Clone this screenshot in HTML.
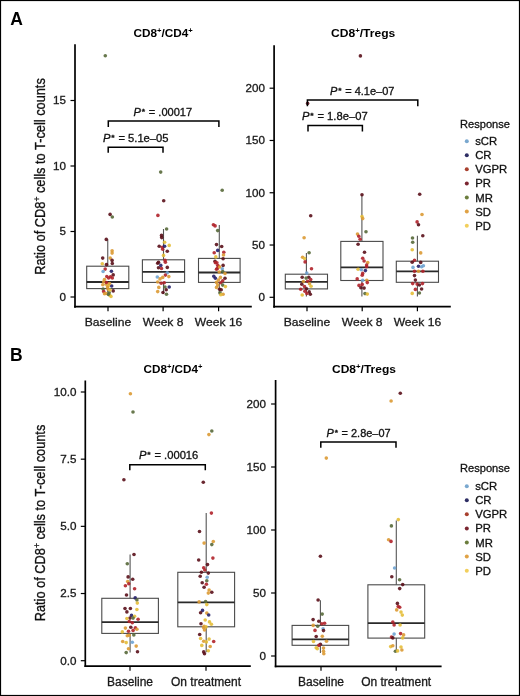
<!DOCTYPE html>
<html><head><meta charset="utf-8"><style>
html,body{margin:0;padding:0;background:#fff;}
svg{display:block;font-family:'Liberation Sans', sans-serif;}
text{-webkit-font-smoothing:antialiased;}
svg{will-change:transform;}
</style></head><body>
<svg width="520" height="696" viewBox="0 0 520 696">
<rect x="0" y="0" width="520" height="696" fill="#fff"/>
<text x="10.20" y="24.80" font-size="17.5" text-anchor="start" font-weight="bold" fill="#000" >A</text>
<text x="133.50" y="36.90" font-size="10.8" text-anchor="start" font-weight="bold" fill="#000" textLength="59.31" lengthAdjust="spacingAndGlyphs" >CD8<tspan baseline-shift="3.6" font-size="7">+</tspan>/CD4<tspan baseline-shift="3.6" font-size="7">+</tspan></text>
<text transform="translate(44.5,176.5) rotate(-90) scale(1,1.09)" font-size="12.8" text-anchor="middle" fill="#111" stroke="#111" stroke-width="0.3">Ratio of CD8<tspan baseline-shift="3.6" font-size="8.5">+</tspan> cells to T-cell counts</text>
<line x1="75.0" y1="44.3" x2="75.0" y2="307.65000000000003" stroke="#000" stroke-width="1.7"/>
<line x1="70.5" y1="297.0" x2="75.0" y2="297.0" stroke="#000" stroke-width="1.2"/>
<text transform="translate(66.00,300.90) scale(1.06,1)" font-size="11" text-anchor="end" font-weight="normal" fill="#1a1a1a"  stroke="#1a1a1a" stroke-width="0.3">0</text>
<line x1="70.5" y1="231.5" x2="75.0" y2="231.5" stroke="#000" stroke-width="1.2"/>
<text transform="translate(66.00,235.40) scale(1.06,1)" font-size="11" text-anchor="end" font-weight="normal" fill="#1a1a1a"  stroke="#1a1a1a" stroke-width="0.3">5</text>
<line x1="70.5" y1="166.0" x2="75.0" y2="166.0" stroke="#000" stroke-width="1.2"/>
<text transform="translate(66.00,169.90) scale(1.06,1)" font-size="11" text-anchor="end" font-weight="normal" fill="#1a1a1a"  stroke="#1a1a1a" stroke-width="0.3">10</text>
<line x1="70.5" y1="100.5" x2="75.0" y2="100.5" stroke="#000" stroke-width="1.2"/>
<text transform="translate(66.00,104.40) scale(1.06,1)" font-size="11" text-anchor="end" font-weight="normal" fill="#1a1a1a"  stroke="#1a1a1a" stroke-width="0.3">15</text>
<line x1="74.15" y1="306.65" x2="251.8" y2="306.65" stroke="#000" stroke-width="1.7"/>
<line x1="108.0" y1="306.65" x2="108.0" y2="311.15" stroke="#000" stroke-width="1.2"/>
<text transform="translate(108.00,326.00) scale(1.035,1)" font-size="11.7" text-anchor="middle" font-weight="normal" fill="#1a1a1a"  stroke="#1a1a1a" stroke-width="0.3">Baseline</text>
<line x1="163.1" y1="306.65" x2="163.1" y2="311.15" stroke="#000" stroke-width="1.2"/>
<text transform="translate(163.10,326.00) scale(1.035,1)" font-size="11.7" text-anchor="middle" font-weight="normal" fill="#1a1a1a"  stroke="#1a1a1a" stroke-width="0.3">Week 8</text>
<line x1="218.6" y1="306.65" x2="218.6" y2="311.15" stroke="#000" stroke-width="1.2"/>
<text transform="translate(218.60,326.00) scale(1.035,1)" font-size="11.7" text-anchor="middle" font-weight="normal" fill="#1a1a1a"  stroke="#1a1a1a" stroke-width="0.3">Week 16</text>
<text x="331.00" y="37.30" font-size="10.8" text-anchor="start" font-weight="bold" fill="#000" textLength="64.33" lengthAdjust="spacingAndGlyphs" >CD8<tspan baseline-shift="3.6" font-size="7">+</tspan>/Tregs</text>
<line x1="274.1" y1="45.2" x2="274.1" y2="307.65000000000003" stroke="#000" stroke-width="1.7"/>
<line x1="269.6" y1="297.3" x2="274.1" y2="297.3" stroke="#000" stroke-width="1.2"/>
<text transform="translate(265.00,301.20) scale(1.06,1)" font-size="11" text-anchor="end" font-weight="normal" fill="#1a1a1a"  stroke="#1a1a1a" stroke-width="0.3">0</text>
<line x1="269.6" y1="245.025" x2="274.1" y2="245.025" stroke="#000" stroke-width="1.2"/>
<text transform="translate(265.00,248.93) scale(1.06,1)" font-size="11" text-anchor="end" font-weight="normal" fill="#1a1a1a"  stroke="#1a1a1a" stroke-width="0.3">50</text>
<line x1="269.6" y1="192.75" x2="274.1" y2="192.75" stroke="#000" stroke-width="1.2"/>
<text transform="translate(265.00,196.65) scale(1.06,1)" font-size="11" text-anchor="end" font-weight="normal" fill="#1a1a1a"  stroke="#1a1a1a" stroke-width="0.3">100</text>
<line x1="269.6" y1="140.475" x2="274.1" y2="140.475" stroke="#000" stroke-width="1.2"/>
<text transform="translate(265.00,144.38) scale(1.06,1)" font-size="11" text-anchor="end" font-weight="normal" fill="#1a1a1a"  stroke="#1a1a1a" stroke-width="0.3">150</text>
<line x1="269.6" y1="88.19999999999999" x2="274.1" y2="88.19999999999999" stroke="#000" stroke-width="1.2"/>
<text transform="translate(265.00,92.10) scale(1.06,1)" font-size="11" text-anchor="end" font-weight="normal" fill="#1a1a1a"  stroke="#1a1a1a" stroke-width="0.3">200</text>
<line x1="273.25" y1="306.7" x2="450.8" y2="306.7" stroke="#000" stroke-width="1.7"/>
<line x1="307.0" y1="306.7" x2="307.0" y2="311.2" stroke="#000" stroke-width="1.2"/>
<text transform="translate(307.00,326.00) scale(1.035,1)" font-size="11.7" text-anchor="middle" font-weight="normal" fill="#1a1a1a"  stroke="#1a1a1a" stroke-width="0.3">Baseline</text>
<line x1="362.2" y1="306.7" x2="362.2" y2="311.2" stroke="#000" stroke-width="1.2"/>
<text transform="translate(362.20,326.00) scale(1.035,1)" font-size="11.7" text-anchor="middle" font-weight="normal" fill="#1a1a1a"  stroke="#1a1a1a" stroke-width="0.3">Week 8</text>
<line x1="417.4" y1="306.7" x2="417.4" y2="311.2" stroke="#000" stroke-width="1.2"/>
<text transform="translate(417.40,326.00) scale(1.035,1)" font-size="11.7" text-anchor="middle" font-weight="normal" fill="#1a1a1a"  stroke="#1a1a1a" stroke-width="0.3">Week 16</text>
<text transform="translate(460.00,128.10) scale(1.01,1)" font-size="11" text-anchor="start" font-weight="normal" fill="#111"  stroke="#111" stroke-width="0.3">Response</text>
<circle cx="466.8" cy="141.2" r="2.0" fill="#7aa8cf"/>
<text transform="translate(475.20,145.20) scale(1.03,1)" font-size="11" text-anchor="start" font-weight="normal" fill="#111"  stroke="#111" stroke-width="0.3">sCR</text>
<circle cx="466.8" cy="155.28" r="2.0" fill="#2d2d64"/>
<text transform="translate(475.20,159.28) scale(1.03,1)" font-size="11" text-anchor="start" font-weight="normal" fill="#111"  stroke="#111" stroke-width="0.3">CR</text>
<circle cx="466.8" cy="169.35999999999999" r="2.0" fill="#a8402e"/>
<text transform="translate(475.20,173.36) scale(1.03,1)" font-size="11" text-anchor="start" font-weight="normal" fill="#111"  stroke="#111" stroke-width="0.3">VGPR</text>
<circle cx="466.8" cy="183.44" r="2.0" fill="#7a2530"/>
<text transform="translate(475.20,187.44) scale(1.03,1)" font-size="11" text-anchor="start" font-weight="normal" fill="#111"  stroke="#111" stroke-width="0.3">PR</text>
<circle cx="466.8" cy="197.51999999999998" r="2.0" fill="#6b7d3d"/>
<text transform="translate(475.20,201.52) scale(1.03,1)" font-size="11" text-anchor="start" font-weight="normal" fill="#111"  stroke="#111" stroke-width="0.3">MR</text>
<circle cx="466.8" cy="211.6" r="2.0" fill="#e0a245"/>
<text transform="translate(475.20,215.60) scale(1.03,1)" font-size="11" text-anchor="start" font-weight="normal" fill="#111"  stroke="#111" stroke-width="0.3">SD</text>
<circle cx="466.8" cy="225.68" r="2.0" fill="#f2cf5c"/>
<text transform="translate(475.20,229.68) scale(1.03,1)" font-size="11" text-anchor="start" font-weight="normal" fill="#111"  stroke="#111" stroke-width="0.3">PD</text>
<text x="9.90" y="360.80" font-size="17.5" text-anchor="start" font-weight="bold" fill="#000" >B</text>
<text x="143.50" y="373.40" font-size="10.8" text-anchor="start" font-weight="bold" fill="#000" textLength="58.94" lengthAdjust="spacingAndGlyphs" >CD8<tspan baseline-shift="3.6" font-size="7">+</tspan>/CD4<tspan baseline-shift="3.6" font-size="7">+</tspan></text>
<text x="332.00" y="373.40" font-size="10.8" text-anchor="start" font-weight="bold" fill="#000" textLength="63.93" lengthAdjust="spacingAndGlyphs" >CD8<tspan baseline-shift="3.6" font-size="7">+</tspan>/Tregs</text>
<text transform="translate(44.5,523) rotate(-90) scale(1,1.09)" font-size="12.8" text-anchor="middle" fill="#111" stroke="#111" stroke-width="0.3">Ratio of CD8<tspan baseline-shift="3.6" font-size="8.5">+</tspan> cells to T-cell counts</text>
<line x1="85.3" y1="380.4" x2="85.3" y2="667.0500000000001" stroke="#000" stroke-width="1.7"/>
<line x1="80.8" y1="660.7" x2="85.3" y2="660.7" stroke="#000" stroke-width="1.2"/>
<text transform="translate(76.40,664.60) scale(1.06,1)" font-size="11" text-anchor="end" font-weight="normal" fill="#1a1a1a"  stroke="#1a1a1a" stroke-width="0.3">0.0</text>
<line x1="80.8" y1="593.5250000000001" x2="85.3" y2="593.5250000000001" stroke="#000" stroke-width="1.2"/>
<text transform="translate(76.40,597.43) scale(1.06,1)" font-size="11" text-anchor="end" font-weight="normal" fill="#1a1a1a"  stroke="#1a1a1a" stroke-width="0.3">2.5</text>
<line x1="80.8" y1="526.35" x2="85.3" y2="526.35" stroke="#000" stroke-width="1.2"/>
<text transform="translate(76.40,530.25) scale(1.06,1)" font-size="11" text-anchor="end" font-weight="normal" fill="#1a1a1a"  stroke="#1a1a1a" stroke-width="0.3">5.0</text>
<line x1="80.8" y1="459.17500000000007" x2="85.3" y2="459.17500000000007" stroke="#000" stroke-width="1.2"/>
<text transform="translate(76.40,463.08) scale(1.06,1)" font-size="11" text-anchor="end" font-weight="normal" fill="#1a1a1a"  stroke="#1a1a1a" stroke-width="0.3">7.5</text>
<line x1="80.8" y1="392.00000000000006" x2="85.3" y2="392.00000000000006" stroke="#000" stroke-width="1.2"/>
<text transform="translate(76.40,395.90) scale(1.06,1)" font-size="11" text-anchor="end" font-weight="normal" fill="#1a1a1a"  stroke="#1a1a1a" stroke-width="0.3">10.0</text>
<line x1="84.45" y1="666.2" x2="250.8" y2="666.2" stroke="#000" stroke-width="1.7"/>
<line x1="130.0" y1="666.2" x2="130.0" y2="670.7" stroke="#000" stroke-width="1.2"/>
<text x="130.00" y="685.60" font-size="12" text-anchor="middle" font-weight="normal" fill="#1a1a1a"  stroke="#1a1a1a" stroke-width="0.3">Baseline</text>
<line x1="206.0" y1="666.2" x2="206.0" y2="670.7" stroke="#000" stroke-width="1.2"/>
<text x="206.00" y="685.60" font-size="12" text-anchor="middle" font-weight="normal" fill="#1a1a1a"  stroke="#1a1a1a" stroke-width="0.3">On treatment</text>
<line x1="275.6" y1="380.1" x2="275.6" y2="667.15" stroke="#000" stroke-width="1.7"/>
<line x1="271.1" y1="656.0" x2="275.6" y2="656.0" stroke="#000" stroke-width="1.2"/>
<text transform="translate(266.00,659.90) scale(1.06,1)" font-size="11" text-anchor="end" font-weight="normal" fill="#1a1a1a"  stroke="#1a1a1a" stroke-width="0.3">0</text>
<line x1="271.1" y1="593.0" x2="275.6" y2="593.0" stroke="#000" stroke-width="1.2"/>
<text transform="translate(266.00,596.90) scale(1.06,1)" font-size="11" text-anchor="end" font-weight="normal" fill="#1a1a1a"  stroke="#1a1a1a" stroke-width="0.3">50</text>
<line x1="271.1" y1="530.0" x2="275.6" y2="530.0" stroke="#000" stroke-width="1.2"/>
<text transform="translate(266.00,533.90) scale(1.06,1)" font-size="11" text-anchor="end" font-weight="normal" fill="#1a1a1a"  stroke="#1a1a1a" stroke-width="0.3">100</text>
<line x1="271.1" y1="467.0" x2="275.6" y2="467.0" stroke="#000" stroke-width="1.2"/>
<text transform="translate(266.00,470.90) scale(1.06,1)" font-size="11" text-anchor="end" font-weight="normal" fill="#1a1a1a"  stroke="#1a1a1a" stroke-width="0.3">150</text>
<line x1="271.1" y1="404.0" x2="275.6" y2="404.0" stroke="#000" stroke-width="1.2"/>
<text transform="translate(266.00,407.90) scale(1.06,1)" font-size="11" text-anchor="end" font-weight="normal" fill="#1a1a1a"  stroke="#1a1a1a" stroke-width="0.3">200</text>
<line x1="274.75" y1="666.3" x2="441.6" y2="666.3" stroke="#000" stroke-width="1.7"/>
<line x1="321.0" y1="666.3" x2="321.0" y2="670.8" stroke="#000" stroke-width="1.2"/>
<text x="321.00" y="685.60" font-size="12" text-anchor="middle" font-weight="normal" fill="#1a1a1a"  stroke="#1a1a1a" stroke-width="0.3">Baseline</text>
<line x1="396.2" y1="666.3" x2="396.2" y2="670.8" stroke="#000" stroke-width="1.2"/>
<text x="396.20" y="685.60" font-size="12" text-anchor="middle" font-weight="normal" fill="#1a1a1a"  stroke="#1a1a1a" stroke-width="0.3">On treatment</text>
<text transform="translate(460.00,472.10) scale(1.01,1)" font-size="11" text-anchor="start" font-weight="normal" fill="#111"  stroke="#111" stroke-width="0.3">Response</text>
<circle cx="466.8" cy="486.2" r="2.0" fill="#7aa8cf"/>
<text transform="translate(475.20,490.20) scale(1.03,1)" font-size="11" text-anchor="start" font-weight="normal" fill="#111"  stroke="#111" stroke-width="0.3">sCR</text>
<circle cx="466.8" cy="500.28" r="2.0" fill="#2d2d64"/>
<text transform="translate(475.20,504.28) scale(1.03,1)" font-size="11" text-anchor="start" font-weight="normal" fill="#111"  stroke="#111" stroke-width="0.3">CR</text>
<circle cx="466.8" cy="514.36" r="2.0" fill="#a8402e"/>
<text transform="translate(475.20,518.36) scale(1.03,1)" font-size="11" text-anchor="start" font-weight="normal" fill="#111"  stroke="#111" stroke-width="0.3">VGPR</text>
<circle cx="466.8" cy="528.4399999999999" r="2.0" fill="#7a2530"/>
<text transform="translate(475.20,532.44) scale(1.03,1)" font-size="11" text-anchor="start" font-weight="normal" fill="#111"  stroke="#111" stroke-width="0.3">PR</text>
<circle cx="466.8" cy="542.52" r="2.0" fill="#6b7d3d"/>
<text transform="translate(475.20,546.52) scale(1.03,1)" font-size="11" text-anchor="start" font-weight="normal" fill="#111"  stroke="#111" stroke-width="0.3">MR</text>
<circle cx="466.8" cy="556.6" r="2.0" fill="#e0a245"/>
<text transform="translate(475.20,560.60) scale(1.03,1)" font-size="11" text-anchor="start" font-weight="normal" fill="#111"  stroke="#111" stroke-width="0.3">SD</text>
<circle cx="466.8" cy="570.68" r="2.0" fill="#f2cf5c"/>
<text transform="translate(475.20,574.68) scale(1.03,1)" font-size="11" text-anchor="start" font-weight="normal" fill="#111"  stroke="#111" stroke-width="0.3">PD</text>
<line x1="107.75" y1="239.5" x2="107.75" y2="266.2" stroke="#555" stroke-width="1.1"/>
<line x1="107.75" y1="288.6" x2="107.75" y2="295.0" stroke="#555" stroke-width="1.1"/>
<rect x="86.7" y="266.2" width="42.1" height="22.400000000000034" fill="none" stroke="#4a4a4a" stroke-width="1.1"/>
<line x1="86.7" y1="282.0" x2="128.8" y2="282.0" stroke="#2a2a2a" stroke-width="1.8"/>
<line x1="163.5" y1="229.0" x2="163.5" y2="259.8" stroke="#555" stroke-width="1.1"/>
<line x1="163.5" y1="282.4" x2="163.5" y2="294.0" stroke="#555" stroke-width="1.1"/>
<rect x="142.4" y="259.8" width="42.2" height="22.599999999999966" fill="none" stroke="#4a4a4a" stroke-width="1.1"/>
<line x1="142.4" y1="271.9" x2="184.6" y2="271.9" stroke="#2a2a2a" stroke-width="1.8"/>
<line x1="219.3" y1="225.0" x2="219.3" y2="258.4" stroke="#555" stroke-width="1.1"/>
<line x1="219.3" y1="282.4" x2="219.3" y2="294.5" stroke="#555" stroke-width="1.1"/>
<rect x="198.5" y="258.4" width="41.6" height="24.0" fill="none" stroke="#4a4a4a" stroke-width="1.1"/>
<line x1="198.5" y1="272.5" x2="240.10000000000002" y2="272.5" stroke="#2a2a2a" stroke-width="1.8"/>
<line x1="306.4" y1="253.0" x2="306.4" y2="274.2" stroke="#555" stroke-width="1.1"/>
<line x1="306.4" y1="288.9" x2="306.4" y2="296.5" stroke="#555" stroke-width="1.1"/>
<rect x="285.29999999999995" y="274.2" width="42.2" height="14.699999999999989" fill="none" stroke="#4a4a4a" stroke-width="1.1"/>
<line x1="285.29999999999995" y1="281.9" x2="327.5" y2="281.9" stroke="#2a2a2a" stroke-width="1.8"/>
<line x1="361.9" y1="194.8" x2="361.9" y2="241.4" stroke="#555" stroke-width="1.1"/>
<line x1="361.9" y1="280.5" x2="361.9" y2="296.5" stroke="#555" stroke-width="1.1"/>
<rect x="340.79999999999995" y="241.4" width="42.2" height="39.099999999999994" fill="none" stroke="#4a4a4a" stroke-width="1.1"/>
<line x1="340.79999999999995" y1="267.3" x2="383.0" y2="267.3" stroke="#2a2a2a" stroke-width="1.8"/>
<line x1="417.4" y1="235.8" x2="417.4" y2="261.2" stroke="#555" stroke-width="1.1"/>
<line x1="417.4" y1="282.3" x2="417.4" y2="296.5" stroke="#555" stroke-width="1.1"/>
<rect x="396.29999999999995" y="261.2" width="42.2" height="21.100000000000023" fill="none" stroke="#4a4a4a" stroke-width="1.1"/>
<line x1="396.29999999999995" y1="271.4" x2="438.5" y2="271.4" stroke="#2a2a2a" stroke-width="1.8"/>
<line x1="130.1" y1="554.6" x2="130.1" y2="598.3" stroke="#555" stroke-width="1.1"/>
<line x1="130.1" y1="633.4" x2="130.1" y2="652.5" stroke="#555" stroke-width="1.1"/>
<rect x="101.8" y="598.3" width="56.6" height="35.10000000000002" fill="none" stroke="#4a4a4a" stroke-width="1.1"/>
<line x1="101.8" y1="622.1" x2="158.4" y2="622.1" stroke="#2a2a2a" stroke-width="1.8"/>
<line x1="206.2" y1="513.1" x2="206.2" y2="572.3" stroke="#555" stroke-width="1.1"/>
<line x1="206.2" y1="626.8" x2="206.2" y2="652.3" stroke="#555" stroke-width="1.1"/>
<rect x="177.79999999999998" y="572.3" width="56.8" height="54.5" fill="none" stroke="#4a4a4a" stroke-width="1.1"/>
<line x1="177.79999999999998" y1="602.4" x2="234.6" y2="602.4" stroke="#2a2a2a" stroke-width="1.8"/>
<line x1="320.4" y1="600.2" x2="320.4" y2="625.4" stroke="#555" stroke-width="1.1"/>
<line x1="320.4" y1="645.3" x2="320.4" y2="653.0" stroke="#555" stroke-width="1.1"/>
<rect x="292.09999999999997" y="625.4" width="56.6" height="19.899999999999977" fill="none" stroke="#4a4a4a" stroke-width="1.1"/>
<line x1="292.09999999999997" y1="639.3" x2="348.7" y2="639.3" stroke="#2a2a2a" stroke-width="1.8"/>
<line x1="396.3" y1="520.4" x2="396.3" y2="584.8" stroke="#555" stroke-width="1.1"/>
<line x1="396.3" y1="638.1" x2="396.3" y2="651.0" stroke="#555" stroke-width="1.1"/>
<rect x="367.90000000000003" y="584.8" width="56.8" height="53.30000000000007" fill="none" stroke="#4a4a4a" stroke-width="1.1"/>
<line x1="367.90000000000003" y1="623.1" x2="424.7" y2="623.1" stroke="#2a2a2a" stroke-width="1.8"/>
<circle cx="105.3" cy="55.8" r="1.8" fill="#58693a" fill-opacity="0.9"/>
<circle cx="110.1" cy="214.4" r="1.8" fill="#5a0f1a" fill-opacity="0.9"/>
<circle cx="112.3" cy="217.0" r="1.8" fill="#58693a" fill-opacity="0.9"/>
<circle cx="106.3" cy="239.4" r="1.8" fill="#5a0f1a" fill-opacity="0.9"/>
<circle cx="112.1" cy="250.8" r="1.8" fill="#dc9a34" fill-opacity="0.9"/>
<circle cx="112.1" cy="253.1" r="1.8" fill="#dc9a34" fill-opacity="0.9"/>
<circle cx="102.7" cy="258.1" r="1.8" fill="#5a0f1a" fill-opacity="0.9"/>
<circle cx="110.2" cy="258.1" r="1.8" fill="#dc9a34" fill-opacity="0.9"/>
<circle cx="112.1" cy="260.4" r="1.8" fill="#5a0f1a" fill-opacity="0.9"/>
<circle cx="112.3" cy="263.5" r="1.8" fill="#5a0f1a" fill-opacity="0.9"/>
<circle cx="102.3" cy="263.8" r="1.8" fill="#e4be38" fill-opacity="0.9"/>
<circle cx="106.5" cy="264.6" r="1.8" fill="#5a0f1a" fill-opacity="0.9"/>
<circle cx="105.2" cy="269.1" r="1.8" fill="#b0222a" fill-opacity="0.9"/>
<circle cx="103.1" cy="271.5" r="1.8" fill="#6fa3d2" fill-opacity="0.9"/>
<circle cx="111.4" cy="271.2" r="1.8" fill="#25206a" fill-opacity="0.9"/>
<circle cx="106.8" cy="276.5" r="1.8" fill="#b0222a" fill-opacity="0.9"/>
<circle cx="110.5" cy="276.8" r="1.8" fill="#b0222a" fill-opacity="0.9"/>
<circle cx="113.2" cy="274.9" r="1.8" fill="#5a0f1a" fill-opacity="0.9"/>
<circle cx="112.3" cy="278.0" r="1.8" fill="#b0222a" fill-opacity="0.9"/>
<circle cx="108.6" cy="278.0" r="1.8" fill="#b0222a" fill-opacity="0.9"/>
<circle cx="103.7" cy="281.7" r="1.8" fill="#dc9a34" fill-opacity="0.9"/>
<circle cx="102.8" cy="284.8" r="1.8" fill="#dc9a34" fill-opacity="0.9"/>
<circle cx="106.2" cy="284.2" r="1.8" fill="#dc9a34" fill-opacity="0.9"/>
<circle cx="108.3" cy="285.7" r="1.8" fill="#e4be38" fill-opacity="0.9"/>
<circle cx="111.7" cy="286.0" r="1.8" fill="#25206a" fill-opacity="0.9"/>
<circle cx="103.1" cy="289.1" r="1.8" fill="#58693a" fill-opacity="0.9"/>
<circle cx="103.7" cy="291.5" r="1.8" fill="#b0222a" fill-opacity="0.9"/>
<circle cx="108.0" cy="289.1" r="1.8" fill="#dc9a34" fill-opacity="0.9"/>
<circle cx="109.2" cy="292.8" r="1.8" fill="#58693a" fill-opacity="0.9"/>
<circle cx="109.8" cy="295.2" r="1.8" fill="#e4be38" fill-opacity="0.9"/>
<circle cx="113.2" cy="290.9" r="1.8" fill="#5a0f1a" fill-opacity="0.9"/>
<circle cx="106.0" cy="293.5" r="1.8" fill="#dc9a34" fill-opacity="0.9"/>
<circle cx="106.5" cy="282.5" r="1.8" fill="#b0222a" fill-opacity="0.9"/>
<circle cx="104.5" cy="279.5" r="1.8" fill="#dc9a34" fill-opacity="0.9"/>
<circle cx="109.5" cy="283.5" r="1.8" fill="#dc9a34" fill-opacity="0.9"/>
<circle cx="107.5" cy="287.0" r="1.8" fill="#dc9a34" fill-opacity="0.9"/>
<circle cx="110.0" cy="290.0" r="1.8" fill="#e4be38" fill-opacity="0.9"/>
<circle cx="108.5" cy="294.5" r="1.8" fill="#58693a" fill-opacity="0.9"/>
<circle cx="111.0" cy="296.5" r="1.8" fill="#e4be38" fill-opacity="0.9"/>
<circle cx="104.5" cy="293.8" r="1.8" fill="#dc9a34" fill-opacity="0.9"/>
<circle cx="160.7" cy="172.1" r="1.8" fill="#58693a" fill-opacity="0.9"/>
<circle cx="163.7" cy="200.8" r="1.8" fill="#5a0f1a" fill-opacity="0.9"/>
<circle cx="157.9" cy="215.4" r="1.8" fill="#b0222a" fill-opacity="0.9"/>
<circle cx="166.6" cy="229.0" r="1.8" fill="#58693a" fill-opacity="0.9"/>
<circle cx="161.5" cy="235.4" r="1.8" fill="#5a0f1a" fill-opacity="0.9"/>
<circle cx="161.7" cy="237.6" r="1.8" fill="#5a0f1a" fill-opacity="0.9"/>
<circle cx="164.6" cy="242.3" r="1.8" fill="#e4be38" fill-opacity="0.9"/>
<circle cx="169.2" cy="245.4" r="1.8" fill="#e4be38" fill-opacity="0.9"/>
<circle cx="159.2" cy="246.2" r="1.8" fill="#5a0f1a" fill-opacity="0.9"/>
<circle cx="162.3" cy="247.3" r="1.8" fill="#b0222a" fill-opacity="0.9"/>
<circle cx="164.6" cy="246.2" r="1.8" fill="#25206a" fill-opacity="0.9"/>
<circle cx="162.7" cy="249.2" r="1.8" fill="#b0222a" fill-opacity="0.9"/>
<circle cx="167.3" cy="251.2" r="1.8" fill="#5a0f1a" fill-opacity="0.9"/>
<circle cx="163.5" cy="255.4" r="1.8" fill="#e4be38" fill-opacity="0.9"/>
<circle cx="165.0" cy="260.4" r="1.8" fill="#b0222a" fill-opacity="0.9"/>
<circle cx="165.4" cy="262.3" r="1.8" fill="#b0222a" fill-opacity="0.9"/>
<circle cx="158.5" cy="262.3" r="1.8" fill="#5a0f1a" fill-opacity="0.9"/>
<circle cx="157.7" cy="263.2" r="1.8" fill="#5a0f1a" fill-opacity="0.9"/>
<circle cx="160.8" cy="265.4" r="1.8" fill="#25206a" fill-opacity="0.9"/>
<circle cx="167.3" cy="267.4" r="1.8" fill="#5a0f1a" fill-opacity="0.9"/>
<circle cx="158.5" cy="267.8" r="1.8" fill="#5a0f1a" fill-opacity="0.9"/>
<circle cx="161.5" cy="268.5" r="1.8" fill="#b0222a" fill-opacity="0.9"/>
<circle cx="167.3" cy="272.8" r="1.8" fill="#6fa3d2" fill-opacity="0.9"/>
<circle cx="165.4" cy="275.1" r="1.8" fill="#b0222a" fill-opacity="0.9"/>
<circle cx="168.8" cy="276.6" r="1.8" fill="#dc9a34" fill-opacity="0.9"/>
<circle cx="157.3" cy="277.0" r="1.8" fill="#6fa3d2" fill-opacity="0.9"/>
<circle cx="160.0" cy="278.9" r="1.8" fill="#dc9a34" fill-opacity="0.9"/>
<circle cx="162.7" cy="277.4" r="1.8" fill="#dc9a34" fill-opacity="0.9"/>
<circle cx="157.7" cy="282.0" r="1.8" fill="#dc9a34" fill-opacity="0.9"/>
<circle cx="161.2" cy="283.2" r="1.8" fill="#b0222a" fill-opacity="0.9"/>
<circle cx="164.2" cy="282.8" r="1.8" fill="#b0222a" fill-opacity="0.9"/>
<circle cx="169.2" cy="287.0" r="1.8" fill="#25206a" fill-opacity="0.9"/>
<circle cx="158.8" cy="287.4" r="1.8" fill="#dc9a34" fill-opacity="0.9"/>
<circle cx="165.0" cy="287.0" r="1.8" fill="#58693a" fill-opacity="0.9"/>
<circle cx="157.7" cy="291.6" r="1.8" fill="#dc9a34" fill-opacity="0.9"/>
<circle cx="166.2" cy="289.7" r="1.8" fill="#5a0f1a" fill-opacity="0.9"/>
<circle cx="166.5" cy="294.3" r="1.8" fill="#58693a" fill-opacity="0.9"/>
<circle cx="163.0" cy="292.5" r="1.8" fill="#5a0f1a" fill-opacity="0.9"/>
<circle cx="222.2" cy="190.3" r="1.8" fill="#58693a" fill-opacity="0.9"/>
<circle cx="213.4" cy="224.8" r="1.8" fill="#b0222a" fill-opacity="0.9"/>
<circle cx="215.1" cy="225.9" r="1.8" fill="#b0222a" fill-opacity="0.9"/>
<circle cx="217.7" cy="230.6" r="1.8" fill="#58693a" fill-opacity="0.9"/>
<circle cx="216.5" cy="244.6" r="1.8" fill="#5a0f1a" fill-opacity="0.9"/>
<circle cx="221.7" cy="246.5" r="1.8" fill="#5a0f1a" fill-opacity="0.9"/>
<circle cx="217.7" cy="250.4" r="1.8" fill="#25206a" fill-opacity="0.9"/>
<circle cx="214.2" cy="252.7" r="1.8" fill="#b0222a" fill-opacity="0.9"/>
<circle cx="223.8" cy="252.3" r="1.8" fill="#b0222a" fill-opacity="0.9"/>
<circle cx="223.5" cy="255.0" r="1.8" fill="#dc9a34" fill-opacity="0.9"/>
<circle cx="215.8" cy="256.9" r="1.8" fill="#e4be38" fill-opacity="0.9"/>
<circle cx="223.1" cy="258.8" r="1.8" fill="#5a0f1a" fill-opacity="0.9"/>
<circle cx="215.0" cy="261.2" r="1.8" fill="#5a0f1a" fill-opacity="0.9"/>
<circle cx="216.9" cy="262.7" r="1.8" fill="#b0222a" fill-opacity="0.9"/>
<circle cx="215.4" cy="262.8" r="1.8" fill="#b0222a" fill-opacity="0.9"/>
<circle cx="223.1" cy="265.4" r="1.8" fill="#5a0f1a" fill-opacity="0.9"/>
<circle cx="218.8" cy="266.2" r="1.8" fill="#dc9a34" fill-opacity="0.9"/>
<circle cx="217.7" cy="265.5" r="1.8" fill="#b0222a" fill-opacity="0.9"/>
<circle cx="217.3" cy="268.5" r="1.8" fill="#b0222a" fill-opacity="0.9"/>
<circle cx="222.3" cy="268.8" r="1.8" fill="#6fa3d2" fill-opacity="0.9"/>
<circle cx="219.6" cy="267.0" r="1.8" fill="#dc9a34" fill-opacity="0.9"/>
<circle cx="216.5" cy="269.3" r="1.8" fill="#b0222a" fill-opacity="0.9"/>
<circle cx="222.7" cy="271.6" r="1.8" fill="#58693a" fill-opacity="0.9"/>
<circle cx="219.2" cy="272.0" r="1.8" fill="#dc9a34" fill-opacity="0.9"/>
<circle cx="225.0" cy="273.5" r="1.8" fill="#dc9a34" fill-opacity="0.9"/>
<circle cx="213.8" cy="276.2" r="1.8" fill="#25206a" fill-opacity="0.9"/>
<circle cx="215.4" cy="278.2" r="1.8" fill="#25206a" fill-opacity="0.9"/>
<circle cx="220.4" cy="277.4" r="1.8" fill="#dc9a34" fill-opacity="0.9"/>
<circle cx="218.5" cy="280.1" r="1.8" fill="#dc9a34" fill-opacity="0.9"/>
<circle cx="225.0" cy="278.2" r="1.8" fill="#5a0f1a" fill-opacity="0.9"/>
<circle cx="222.7" cy="280.8" r="1.8" fill="#b0222a" fill-opacity="0.9"/>
<circle cx="216.5" cy="282.4" r="1.8" fill="#dc9a34" fill-opacity="0.9"/>
<circle cx="220.8" cy="282.8" r="1.8" fill="#b0222a" fill-opacity="0.9"/>
<circle cx="217.7" cy="285.1" r="1.8" fill="#dc9a34" fill-opacity="0.9"/>
<circle cx="222.7" cy="285.1" r="1.8" fill="#58693a" fill-opacity="0.9"/>
<circle cx="216.5" cy="287.4" r="1.8" fill="#dc9a34" fill-opacity="0.9"/>
<circle cx="225.4" cy="286.6" r="1.8" fill="#e4be38" fill-opacity="0.9"/>
<circle cx="219.6" cy="289.3" r="1.8" fill="#5a0f1a" fill-opacity="0.9"/>
<circle cx="221.2" cy="289.7" r="1.8" fill="#5a0f1a" fill-opacity="0.9"/>
<circle cx="220.0" cy="292.8" r="1.8" fill="#58693a" fill-opacity="0.9"/>
<circle cx="223.1" cy="294.3" r="1.8" fill="#dc9a34" fill-opacity="0.9"/>
<circle cx="220.8" cy="294.7" r="1.8" fill="#e4be38" fill-opacity="0.9"/>
<circle cx="307.6" cy="103.4" r="1.8" fill="#5a0f1a" fill-opacity="0.9"/>
<circle cx="310.7" cy="215.8" r="1.8" fill="#5a0f1a" fill-opacity="0.9"/>
<circle cx="304.1" cy="237.8" r="1.8" fill="#dc9a34" fill-opacity="0.9"/>
<circle cx="309.1" cy="252.7" r="1.8" fill="#58693a" fill-opacity="0.9"/>
<circle cx="302.6" cy="257.3" r="1.8" fill="#dc9a34" fill-opacity="0.9"/>
<circle cx="304.5" cy="258.5" r="1.8" fill="#e4be38" fill-opacity="0.9"/>
<circle cx="305.1" cy="261.9" r="1.8" fill="#b0222a" fill-opacity="0.9"/>
<circle cx="311.5" cy="268.8" r="1.8" fill="#b0222a" fill-opacity="0.9"/>
<circle cx="306.8" cy="273.1" r="1.8" fill="#6fa3d2" fill-opacity="0.9"/>
<circle cx="302.2" cy="277.3" r="1.8" fill="#5a0f1a" fill-opacity="0.9"/>
<circle cx="308.8" cy="277.3" r="1.8" fill="#5a0f1a" fill-opacity="0.9"/>
<circle cx="306.1" cy="278.1" r="1.8" fill="#58693a" fill-opacity="0.9"/>
<circle cx="310.7" cy="279.6" r="1.8" fill="#b0222a" fill-opacity="0.9"/>
<circle cx="303.4" cy="281.5" r="1.8" fill="#dc9a34" fill-opacity="0.9"/>
<circle cx="307.6" cy="281.2" r="1.8" fill="#b0222a" fill-opacity="0.9"/>
<circle cx="301.8" cy="284.2" r="1.8" fill="#5a0f1a" fill-opacity="0.9"/>
<circle cx="309.5" cy="283.8" r="1.8" fill="#dc9a34" fill-opacity="0.9"/>
<circle cx="311.1" cy="286.2" r="1.8" fill="#e4be38" fill-opacity="0.9"/>
<circle cx="304.5" cy="286.5" r="1.8" fill="#b0222a" fill-opacity="0.9"/>
<circle cx="300.7" cy="289.2" r="1.8" fill="#b0222a" fill-opacity="0.9"/>
<circle cx="306.5" cy="288.8" r="1.8" fill="#5a0f1a" fill-opacity="0.9"/>
<circle cx="304.9" cy="291.2" r="1.8" fill="#b0222a" fill-opacity="0.9"/>
<circle cx="309.2" cy="291.9" r="1.8" fill="#5a0f1a" fill-opacity="0.9"/>
<circle cx="310.3" cy="294.2" r="1.8" fill="#5a0f1a" fill-opacity="0.9"/>
<circle cx="302.2" cy="295.0" r="1.8" fill="#e4be38" fill-opacity="0.9"/>
<circle cx="306.8" cy="293.5" r="1.8" fill="#b0222a" fill-opacity="0.9"/>
<circle cx="360.4" cy="55.9" r="1.8" fill="#5a0f1a" fill-opacity="0.9"/>
<circle cx="362.0" cy="194.7" r="1.8" fill="#5a0f1a" fill-opacity="0.9"/>
<circle cx="362.0" cy="216.5" r="1.8" fill="#e4be38" fill-opacity="0.9"/>
<circle cx="362.7" cy="218.6" r="1.8" fill="#dc9a34" fill-opacity="0.9"/>
<circle cx="366.0" cy="231.8" r="1.8" fill="#58693a" fill-opacity="0.9"/>
<circle cx="357.5" cy="234.1" r="1.8" fill="#dc9a34" fill-opacity="0.9"/>
<circle cx="358.8" cy="236.3" r="1.8" fill="#b0222a" fill-opacity="0.9"/>
<circle cx="360.1" cy="239.3" r="1.8" fill="#b0222a" fill-opacity="0.9"/>
<circle cx="358.1" cy="244.3" r="1.8" fill="#5a0f1a" fill-opacity="0.9"/>
<circle cx="364.5" cy="252.3" r="1.8" fill="#5a0f1a" fill-opacity="0.9"/>
<circle cx="362.7" cy="258.2" r="1.8" fill="#b0222a" fill-opacity="0.9"/>
<circle cx="364.1" cy="261.0" r="1.8" fill="#b0222a" fill-opacity="0.9"/>
<circle cx="367.7" cy="262.6" r="1.8" fill="#dc9a34" fill-opacity="0.9"/>
<circle cx="366.6" cy="265.1" r="1.8" fill="#b0222a" fill-opacity="0.9"/>
<circle cx="366.6" cy="266.8" r="1.8" fill="#b0222a" fill-opacity="0.9"/>
<circle cx="358.1" cy="269.3" r="1.8" fill="#e4be38" fill-opacity="0.9"/>
<circle cx="361.3" cy="269.7" r="1.8" fill="#6fa3d2" fill-opacity="0.9"/>
<circle cx="365.4" cy="270.6" r="1.8" fill="#25206a" fill-opacity="0.9"/>
<circle cx="362.7" cy="273.4" r="1.8" fill="#b0222a" fill-opacity="0.9"/>
<circle cx="362.2" cy="275.2" r="1.8" fill="#b0222a" fill-opacity="0.9"/>
<circle cx="357.2" cy="278.9" r="1.8" fill="#b0222a" fill-opacity="0.9"/>
<circle cx="362.7" cy="280.3" r="1.8" fill="#6fa3d2" fill-opacity="0.9"/>
<circle cx="366.8" cy="280.3" r="1.8" fill="#dc9a34" fill-opacity="0.9"/>
<circle cx="367.3" cy="282.6" r="1.8" fill="#b0222a" fill-opacity="0.9"/>
<circle cx="362.2" cy="284.4" r="1.8" fill="#b0222a" fill-opacity="0.9"/>
<circle cx="359.0" cy="285.4" r="1.8" fill="#b0222a" fill-opacity="0.9"/>
<circle cx="360.9" cy="287.7" r="1.8" fill="#5a0f1a" fill-opacity="0.9"/>
<circle cx="364.1" cy="288.1" r="1.8" fill="#5a0f1a" fill-opacity="0.9"/>
<circle cx="365.0" cy="293.6" r="1.8" fill="#58693a" fill-opacity="0.9"/>
<circle cx="367.3" cy="294.1" r="1.8" fill="#e4be38" fill-opacity="0.9"/>
<circle cx="419.7" cy="194.3" r="1.8" fill="#5a0f1a" fill-opacity="0.9"/>
<circle cx="422.0" cy="214.5" r="1.8" fill="#dc9a34" fill-opacity="0.9"/>
<circle cx="417.1" cy="221.9" r="1.8" fill="#b0222a" fill-opacity="0.9"/>
<circle cx="418.5" cy="224.8" r="1.8" fill="#5a0f1a" fill-opacity="0.9"/>
<circle cx="422.8" cy="235.7" r="1.8" fill="#5a0f1a" fill-opacity="0.9"/>
<circle cx="412.5" cy="238.0" r="1.8" fill="#58693a" fill-opacity="0.9"/>
<circle cx="412.7" cy="242.2" r="1.8" fill="#58693a" fill-opacity="0.9"/>
<circle cx="412.2" cy="249.8" r="1.8" fill="#e4be38" fill-opacity="0.9"/>
<circle cx="420.7" cy="252.9" r="1.8" fill="#dc9a34" fill-opacity="0.9"/>
<circle cx="414.5" cy="260.3" r="1.8" fill="#b0222a" fill-opacity="0.9"/>
<circle cx="412.2" cy="262.3" r="1.8" fill="#5a0f1a" fill-opacity="0.9"/>
<circle cx="420.7" cy="262.4" r="1.8" fill="#5a0f1a" fill-opacity="0.9"/>
<circle cx="418.5" cy="266.3" r="1.8" fill="#25206a" fill-opacity="0.9"/>
<circle cx="413.0" cy="267.4" r="1.8" fill="#6fa3d2" fill-opacity="0.9"/>
<circle cx="421.6" cy="266.7" r="1.8" fill="#6fa3d2" fill-opacity="0.9"/>
<circle cx="423.4" cy="265.8" r="1.8" fill="#6fa3d2" fill-opacity="0.9"/>
<circle cx="414.5" cy="271.2" r="1.8" fill="#b0222a" fill-opacity="0.9"/>
<circle cx="418.5" cy="271.3" r="1.8" fill="#dc9a34" fill-opacity="0.9"/>
<circle cx="422.9" cy="271.3" r="1.8" fill="#b0222a" fill-opacity="0.9"/>
<circle cx="414.5" cy="275.6" r="1.8" fill="#5a0f1a" fill-opacity="0.9"/>
<circle cx="415.4" cy="280.1" r="1.8" fill="#5a0f1a" fill-opacity="0.9"/>
<circle cx="412.7" cy="283.6" r="1.8" fill="#b0222a" fill-opacity="0.9"/>
<circle cx="417.1" cy="284.1" r="1.8" fill="#b0222a" fill-opacity="0.9"/>
<circle cx="422.5" cy="283.6" r="1.8" fill="#b0222a" fill-opacity="0.9"/>
<circle cx="419.4" cy="285.0" r="1.8" fill="#5a0f1a" fill-opacity="0.9"/>
<circle cx="415.4" cy="289.4" r="1.8" fill="#b0222a" fill-opacity="0.9"/>
<circle cx="421.6" cy="289.0" r="1.8" fill="#5a0f1a" fill-opacity="0.9"/>
<circle cx="412.2" cy="293.4" r="1.8" fill="#e4be38" fill-opacity="0.9"/>
<circle cx="419.4" cy="293.0" r="1.8" fill="#58693a" fill-opacity="0.9"/>
<circle cx="130.4" cy="393.7" r="1.8" fill="#dc9a34" fill-opacity="0.9"/>
<circle cx="133.0" cy="412.0" r="1.8" fill="#58693a" fill-opacity="0.9"/>
<circle cx="123.9" cy="479.7" r="1.8" fill="#5a0f1a" fill-opacity="0.9"/>
<circle cx="134.0" cy="554.5" r="1.8" fill="#5a0f1a" fill-opacity="0.9"/>
<circle cx="127.3" cy="563.7" r="1.8" fill="#58693a" fill-opacity="0.9"/>
<circle cx="128.1" cy="576.9" r="1.8" fill="#5a0f1a" fill-opacity="0.9"/>
<circle cx="132.7" cy="579.2" r="1.8" fill="#5a0f1a" fill-opacity="0.9"/>
<circle cx="127.7" cy="581.5" r="1.8" fill="#dc9a34" fill-opacity="0.9"/>
<circle cx="128.8" cy="583.8" r="1.8" fill="#b0222a" fill-opacity="0.9"/>
<circle cx="125.4" cy="585.8" r="1.8" fill="#b0222a" fill-opacity="0.9"/>
<circle cx="134.6" cy="588.8" r="1.8" fill="#b0222a" fill-opacity="0.9"/>
<circle cx="126.5" cy="595.0" r="1.8" fill="#5a0f1a" fill-opacity="0.9"/>
<circle cx="135.2" cy="597.9" r="1.8" fill="#25206a" fill-opacity="0.9"/>
<circle cx="136.9" cy="600.0" r="1.8" fill="#58693a" fill-opacity="0.9"/>
<circle cx="137.3" cy="603.1" r="1.8" fill="#e4be38" fill-opacity="0.9"/>
<circle cx="125.0" cy="608.5" r="1.8" fill="#5a0f1a" fill-opacity="0.9"/>
<circle cx="130.4" cy="608.5" r="1.8" fill="#5a0f1a" fill-opacity="0.9"/>
<circle cx="126.9" cy="611.9" r="1.8" fill="#5a0f1a" fill-opacity="0.9"/>
<circle cx="136.9" cy="609.5" r="1.8" fill="#e4be38" fill-opacity="0.9"/>
<circle cx="131.5" cy="615.4" r="1.8" fill="#25206a" fill-opacity="0.9"/>
<circle cx="134.6" cy="616.2" r="1.8" fill="#e4be38" fill-opacity="0.9"/>
<circle cx="130.0" cy="618.1" r="1.8" fill="#5a0f1a" fill-opacity="0.9"/>
<circle cx="133.1" cy="618.1" r="1.8" fill="#58693a" fill-opacity="0.9"/>
<circle cx="138.1" cy="619.2" r="1.8" fill="#b0222a" fill-opacity="0.9"/>
<circle cx="126.9" cy="618.5" r="1.8" fill="#e4be38" fill-opacity="0.9"/>
<circle cx="129.2" cy="621.5" r="1.8" fill="#b0222a" fill-opacity="0.9"/>
<circle cx="132.3" cy="622.7" r="1.8" fill="#b0222a" fill-opacity="0.9"/>
<circle cx="130.8" cy="627.3" r="1.8" fill="#5a0f1a" fill-opacity="0.9"/>
<circle cx="135.4" cy="627.7" r="1.8" fill="#b0222a" fill-opacity="0.9"/>
<circle cx="125.4" cy="628.1" r="1.8" fill="#dc9a34" fill-opacity="0.9"/>
<circle cx="136.9" cy="629.2" r="1.8" fill="#dc9a34" fill-opacity="0.9"/>
<circle cx="128.5" cy="631.2" r="1.8" fill="#b0222a" fill-opacity="0.9"/>
<circle cx="122.3" cy="631.9" r="1.8" fill="#e4be38" fill-opacity="0.9"/>
<circle cx="133.1" cy="630.4" r="1.8" fill="#b0222a" fill-opacity="0.9"/>
<circle cx="133.8" cy="634.9" r="1.8" fill="#58693a" fill-opacity="0.9"/>
<circle cx="127.3" cy="635.7" r="1.8" fill="#dc9a34" fill-opacity="0.9"/>
<circle cx="129.2" cy="635.3" r="1.8" fill="#dc9a34" fill-opacity="0.9"/>
<circle cx="122.7" cy="641.5" r="1.8" fill="#dc9a34" fill-opacity="0.9"/>
<circle cx="126.2" cy="642.6" r="1.8" fill="#e4be38" fill-opacity="0.9"/>
<circle cx="132.3" cy="642.2" r="1.8" fill="#6fa3d2" fill-opacity="0.9"/>
<circle cx="136.2" cy="646.1" r="1.8" fill="#dc9a34" fill-opacity="0.9"/>
<circle cx="128.5" cy="648.8" r="1.8" fill="#dc9a34" fill-opacity="0.9"/>
<circle cx="126.2" cy="652.6" r="1.8" fill="#58693a" fill-opacity="0.9"/>
<circle cx="137.5" cy="651.8" r="1.8" fill="#5a0f1a" fill-opacity="0.9"/>
<circle cx="211.8" cy="431.0" r="1.8" fill="#58693a" fill-opacity="0.9"/>
<circle cx="208.9" cy="434.6" r="1.8" fill="#dc9a34" fill-opacity="0.9"/>
<circle cx="203.3" cy="482.3" r="1.8" fill="#5a0f1a" fill-opacity="0.9"/>
<circle cx="211.4" cy="513.1" r="1.8" fill="#b0222a" fill-opacity="0.9"/>
<circle cx="199.5" cy="531.5" r="1.8" fill="#5a0f1a" fill-opacity="0.9"/>
<circle cx="204.1" cy="543.1" r="1.8" fill="#dc9a34" fill-opacity="0.9"/>
<circle cx="213.3" cy="541.5" r="1.8" fill="#dc9a34" fill-opacity="0.9"/>
<circle cx="211.8" cy="544.6" r="1.8" fill="#58693a" fill-opacity="0.9"/>
<circle cx="212.9" cy="558.1" r="1.8" fill="#b0222a" fill-opacity="0.9"/>
<circle cx="198.7" cy="560.0" r="1.8" fill="#5a0f1a" fill-opacity="0.9"/>
<circle cx="207.5" cy="564.6" r="1.8" fill="#5a0f1a" fill-opacity="0.9"/>
<circle cx="203.7" cy="567.7" r="1.8" fill="#b0222a" fill-opacity="0.9"/>
<circle cx="204.8" cy="570.0" r="1.8" fill="#b0222a" fill-opacity="0.9"/>
<circle cx="201.4" cy="572.3" r="1.8" fill="#5a0f1a" fill-opacity="0.9"/>
<circle cx="208.3" cy="573.1" r="1.8" fill="#5a0f1a" fill-opacity="0.9"/>
<circle cx="200.2" cy="576.2" r="1.8" fill="#5a0f1a" fill-opacity="0.9"/>
<circle cx="207.2" cy="577.3" r="1.8" fill="#6fa3d2" fill-opacity="0.9"/>
<circle cx="206.8" cy="580.8" r="1.8" fill="#58693a" fill-opacity="0.9"/>
<circle cx="202.2" cy="582.7" r="1.8" fill="#5a0f1a" fill-opacity="0.9"/>
<circle cx="206.4" cy="584.2" r="1.8" fill="#b0222a" fill-opacity="0.9"/>
<circle cx="204.1" cy="587.3" r="1.8" fill="#5a0f1a" fill-opacity="0.9"/>
<circle cx="209.1" cy="590.0" r="1.8" fill="#dc9a34" fill-opacity="0.9"/>
<circle cx="211.8" cy="592.3" r="1.8" fill="#5a0f1a" fill-opacity="0.9"/>
<circle cx="208.3" cy="593.1" r="1.8" fill="#dc9a34" fill-opacity="0.9"/>
<circle cx="199.1" cy="601.9" r="1.8" fill="#dc9a34" fill-opacity="0.9"/>
<circle cx="205.6" cy="601.5" r="1.8" fill="#58693a" fill-opacity="0.9"/>
<circle cx="206.8" cy="604.6" r="1.8" fill="#e4be38" fill-opacity="0.9"/>
<circle cx="202.5" cy="610.4" r="1.8" fill="#25206a" fill-opacity="0.9"/>
<circle cx="200.6" cy="612.7" r="1.8" fill="#5a0f1a" fill-opacity="0.9"/>
<circle cx="206.8" cy="613.1" r="1.8" fill="#dc9a34" fill-opacity="0.9"/>
<circle cx="208.7" cy="615.0" r="1.8" fill="#25206a" fill-opacity="0.9"/>
<circle cx="205.2" cy="620.0" r="1.8" fill="#e4be38" fill-opacity="0.9"/>
<circle cx="209.5" cy="621.9" r="1.8" fill="#e4be38" fill-opacity="0.9"/>
<circle cx="211.4" cy="624.2" r="1.8" fill="#e4be38" fill-opacity="0.9"/>
<circle cx="201.0" cy="623.8" r="1.8" fill="#5a0f1a" fill-opacity="0.9"/>
<circle cx="204.1" cy="626.2" r="1.8" fill="#dc9a34" fill-opacity="0.9"/>
<circle cx="206.0" cy="626.9" r="1.8" fill="#e4be38" fill-opacity="0.9"/>
<circle cx="203.7" cy="627.7" r="1.8" fill="#dc9a34" fill-opacity="0.9"/>
<circle cx="204.5" cy="630.0" r="1.8" fill="#dc9a34" fill-opacity="0.9"/>
<circle cx="199.7" cy="634.5" r="1.8" fill="#5a0f1a" fill-opacity="0.9"/>
<circle cx="200.6" cy="638.5" r="1.8" fill="#e4be38" fill-opacity="0.9"/>
<circle cx="209.1" cy="639.1" r="1.8" fill="#e4be38" fill-opacity="0.9"/>
<circle cx="203.7" cy="641.2" r="1.8" fill="#dc9a34" fill-opacity="0.9"/>
<circle cx="206.4" cy="641.9" r="1.8" fill="#e4be38" fill-opacity="0.9"/>
<circle cx="213.7" cy="641.5" r="1.8" fill="#b0222a" fill-opacity="0.9"/>
<circle cx="201.8" cy="645.4" r="1.8" fill="#e4be38" fill-opacity="0.9"/>
<circle cx="210.2" cy="646.5" r="1.8" fill="#dc9a34" fill-opacity="0.9"/>
<circle cx="208.3" cy="650.8" r="1.8" fill="#e4be38" fill-opacity="0.9"/>
<circle cx="203.7" cy="651.9" r="1.8" fill="#5a0f1a" fill-opacity="0.9"/>
<circle cx="204.5" cy="653.8" r="1.8" fill="#5a0f1a" fill-opacity="0.9"/>
<circle cx="326.3" cy="458.1" r="1.8" fill="#dc9a34" fill-opacity="0.9"/>
<circle cx="320.4" cy="556.3" r="1.8" fill="#5a0f1a" fill-opacity="0.9"/>
<circle cx="318.1" cy="600.0" r="1.8" fill="#5a0f1a" fill-opacity="0.9"/>
<circle cx="322.2" cy="614.1" r="1.8" fill="#58693a" fill-opacity="0.9"/>
<circle cx="313.1" cy="619.6" r="1.8" fill="#5a0f1a" fill-opacity="0.9"/>
<circle cx="318.8" cy="621.2" r="1.8" fill="#5a0f1a" fill-opacity="0.9"/>
<circle cx="321.9" cy="623.8" r="1.8" fill="#b0222a" fill-opacity="0.9"/>
<circle cx="324.6" cy="623.3" r="1.8" fill="#b0222a" fill-opacity="0.9"/>
<circle cx="313.2" cy="625.4" r="1.8" fill="#dc9a34" fill-opacity="0.9"/>
<circle cx="317.7" cy="626.2" r="1.8" fill="#58693a" fill-opacity="0.9"/>
<circle cx="315.0" cy="630.4" r="1.8" fill="#b0222a" fill-opacity="0.9"/>
<circle cx="323.1" cy="628.8" r="1.8" fill="#6fa3d2" fill-opacity="0.9"/>
<circle cx="323.5" cy="630.6" r="1.8" fill="#5a0f1a" fill-opacity="0.9"/>
<circle cx="316.2" cy="636.5" r="1.8" fill="#5a0f1a" fill-opacity="0.9"/>
<circle cx="322.3" cy="636.2" r="1.8" fill="#dc9a34" fill-opacity="0.9"/>
<circle cx="313.5" cy="641.5" r="1.8" fill="#e4be38" fill-opacity="0.9"/>
<circle cx="326.5" cy="641.2" r="1.8" fill="#dc9a34" fill-opacity="0.9"/>
<circle cx="320.4" cy="644.2" r="1.8" fill="#5a0f1a" fill-opacity="0.9"/>
<circle cx="318.8" cy="645.4" r="1.8" fill="#b0222a" fill-opacity="0.9"/>
<circle cx="316.2" cy="647.7" r="1.8" fill="#e4be38" fill-opacity="0.9"/>
<circle cx="323.5" cy="648.1" r="1.8" fill="#dc9a34" fill-opacity="0.9"/>
<circle cx="323.5" cy="651.2" r="1.8" fill="#dc9a34" fill-opacity="0.9"/>
<circle cx="317.3" cy="648.8" r="1.8" fill="#e4be38" fill-opacity="0.9"/>
<circle cx="323.8" cy="653.8" r="1.8" fill="#dc9a34" fill-opacity="0.9"/>
<circle cx="400.3" cy="393.3" r="1.8" fill="#5a0f1a" fill-opacity="0.9"/>
<circle cx="391.1" cy="401.0" r="1.8" fill="#dc9a34" fill-opacity="0.9"/>
<circle cx="398.3" cy="519.6" r="1.8" fill="#e4be38" fill-opacity="0.9"/>
<circle cx="391.4" cy="525.9" r="1.8" fill="#58693a" fill-opacity="0.9"/>
<circle cx="388.6" cy="539.8" r="1.8" fill="#dc9a34" fill-opacity="0.9"/>
<circle cx="391.0" cy="541.4" r="1.8" fill="#b0222a" fill-opacity="0.9"/>
<circle cx="394.6" cy="568.0" r="1.8" fill="#6fa3d2" fill-opacity="0.9"/>
<circle cx="391.8" cy="576.7" r="1.8" fill="#5a0f1a" fill-opacity="0.9"/>
<circle cx="399.6" cy="579.7" r="1.8" fill="#58693a" fill-opacity="0.9"/>
<circle cx="402.7" cy="584.6" r="1.8" fill="#5a0f1a" fill-opacity="0.9"/>
<circle cx="399.7" cy="588.6" r="1.8" fill="#5a0f1a" fill-opacity="0.9"/>
<circle cx="397.4" cy="603.4" r="1.8" fill="#5a0f1a" fill-opacity="0.9"/>
<circle cx="398.2" cy="606.5" r="1.8" fill="#b0222a" fill-opacity="0.9"/>
<circle cx="399.7" cy="607.3" r="1.8" fill="#b0222a" fill-opacity="0.9"/>
<circle cx="396.7" cy="609.9" r="1.8" fill="#dc9a34" fill-opacity="0.9"/>
<circle cx="401.0" cy="612.1" r="1.8" fill="#e4be38" fill-opacity="0.9"/>
<circle cx="402.3" cy="615.1" r="1.8" fill="#e4be38" fill-opacity="0.9"/>
<circle cx="392.8" cy="622.0" r="1.8" fill="#b0222a" fill-opacity="0.9"/>
<circle cx="394.1" cy="625.0" r="1.8" fill="#b0222a" fill-opacity="0.9"/>
<circle cx="400.1" cy="625.0" r="1.8" fill="#e4be38" fill-opacity="0.9"/>
<circle cx="394.1" cy="634.1" r="1.8" fill="#6fa3d2" fill-opacity="0.9"/>
<circle cx="400.6" cy="633.6" r="1.8" fill="#b0222a" fill-opacity="0.9"/>
<circle cx="403.6" cy="634.9" r="1.8" fill="#dc9a34" fill-opacity="0.9"/>
<circle cx="391.5" cy="637.1" r="1.8" fill="#b0222a" fill-opacity="0.9"/>
<circle cx="392.8" cy="637.9" r="1.8" fill="#5a0f1a" fill-opacity="0.9"/>
<circle cx="402.7" cy="637.9" r="1.8" fill="#e4be38" fill-opacity="0.9"/>
<circle cx="390.7" cy="646.6" r="1.8" fill="#e4be38" fill-opacity="0.9"/>
<circle cx="392.8" cy="645.7" r="1.8" fill="#dc9a34" fill-opacity="0.9"/>
<circle cx="401.0" cy="647.0" r="1.8" fill="#e4be38" fill-opacity="0.9"/>
<circle cx="401.9" cy="650.0" r="1.8" fill="#dc9a34" fill-opacity="0.9"/>
<circle cx="395.4" cy="651.3" r="1.8" fill="#58693a" fill-opacity="0.9"/>
<circle cx="397.6" cy="650.9" r="1.8" fill="#e4be38" fill-opacity="0.9"/>
<path d="M108.3 126.9 V121.0 H218.9 V126.9" fill="none" stroke="#000" stroke-width="1.5"/>
<text x="133.50" y="115.80" font-size="10.5" text-anchor="start" font-weight="normal" fill="#111" textLength="58.70" lengthAdjust="spacingAndGlyphs"  stroke="#111" stroke-width="0.3"><tspan font-style="italic">P</tspan><tspan dx="0.8" font-size="8" font-weight="bold" baseline-shift="1.8">*</tspan><tspan dx="0.6"> </tspan>= .00017</text>
<path d="M108.2 152.79999999999998 V147.2 H163.0 V152.79999999999998" fill="none" stroke="#000" stroke-width="1.5"/>
<text x="103.00" y="141.50" font-size="10.5" text-anchor="start" font-weight="normal" fill="#111" textLength="65.52" lengthAdjust="spacingAndGlyphs"  stroke="#111" stroke-width="0.3"><tspan font-style="italic">P</tspan><tspan dx="0.8" font-size="8" font-weight="bold" baseline-shift="1.8">*</tspan><tspan dx="0.6"> </tspan>= 5.1e–05</text>
<path d="M307.4 106.30000000000001 V99.9 H417.8 V106.30000000000001" fill="none" stroke="#000" stroke-width="1.5"/>
<text x="330.00" y="95.00" font-size="10.5" text-anchor="start" font-weight="normal" fill="#111" textLength="64.51" lengthAdjust="spacingAndGlyphs"  stroke="#111" stroke-width="0.3"><tspan font-style="italic">P</tspan><tspan dx="0.8" font-size="8" font-weight="bold" baseline-shift="1.8">*</tspan><tspan dx="0.6"> </tspan>= 4.1e–07</text>
<path d="M308.0 131.6 V125.6 H362.4 V131.6" fill="none" stroke="#000" stroke-width="1.5"/>
<text x="302.00" y="120.10" font-size="10.5" text-anchor="start" font-weight="normal" fill="#111" textLength="65.71" lengthAdjust="spacingAndGlyphs"  stroke="#111" stroke-width="0.3"><tspan font-style="italic">P</tspan><tspan dx="0.8" font-size="8" font-weight="bold" baseline-shift="1.8">*</tspan><tspan dx="0.6"> </tspan>= 1.8e–07</text>
<path d="M129.8 470.3 V464.7 H205.3 V470.3" fill="none" stroke="#000" stroke-width="1.5"/>
<text x="139.00" y="459.40" font-size="10.5" text-anchor="start" font-weight="normal" fill="#111" textLength="59.33" lengthAdjust="spacingAndGlyphs"  stroke="#111" stroke-width="0.3"><tspan font-style="italic">P</tspan><tspan dx="0.8" font-size="8" font-weight="bold" baseline-shift="1.8">*</tspan><tspan dx="0.6"> </tspan>= .00016</text>
<path d="M320.8 447.8 V442.1 H396.0 V447.8" fill="none" stroke="#000" stroke-width="1.5"/>
<text x="326.50" y="436.80" font-size="10.5" text-anchor="start" font-weight="normal" fill="#111" textLength="64.14" lengthAdjust="spacingAndGlyphs"  stroke="#111" stroke-width="0.3"><tspan font-style="italic">P</tspan><tspan dx="0.8" font-size="8" font-weight="bold" baseline-shift="1.8">*</tspan><tspan dx="0.6"> </tspan>= 2.8e–07</text>
<rect x="0.5" y="0.5" width="519" height="695" fill="none" stroke="#000" stroke-width="1.2"/>
</svg>
</body></html>
